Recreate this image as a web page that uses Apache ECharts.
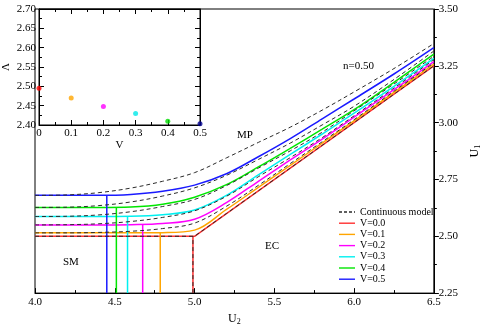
<!DOCTYPE html>
<html>
<head>
<meta charset="utf-8">
<script src="https://cdn.jsdelivr.net/npm/echarts@6/dist/echarts.min.js"></script>
<style>
  html, body { margin: 0; padding: 0; background: #fff; }
  #chart { width: 490px; height: 331px; }
</style>
</head>
<body>
<div id="chart"></div>
<script>
// sample positions along U2
const U2 = [4.0, 4.2, 4.4, 4.6, 4.8, 5.0, 5.2, 5.4, 5.6, 5.8, 6.0, 6.25, 6.5];

// solid curves, V = 0.0 ... 0.5
const solidV00 = [2.500, 2.500, 2.500, 2.500, 2.500, 2.500, 2.600, 2.700, 2.800, 2.900, 3.000, 3.125, 3.250];
const solidV01 = [2.515, 2.515, 2.515, 2.515, 2.516, 2.527, 2.618, 2.715, 2.812, 2.910, 3.008, 3.133, 3.258];
const solidV02 = [2.550, 2.550, 2.550, 2.551, 2.556, 2.575, 2.648, 2.742, 2.836, 2.928, 3.024, 3.145, 3.268];
const solidV03 = [2.587, 2.587, 2.587, 2.588, 2.595, 2.616, 2.680, 2.770, 2.860, 2.950, 3.042, 3.160, 3.283];
const solidV04 = [2.627, 2.627, 2.627, 2.629, 2.641, 2.672, 2.727, 2.805, 2.887, 2.971, 3.057, 3.177, 3.301];
const solidV05 = [2.680, 2.680, 2.680, 2.684, 2.698, 2.725, 2.775, 2.850, 2.930, 3.017, 3.104, 3.214, 3.330];

// continuous model (dashed)
const contV00 = solidV00;
const contV01 = [2.515, 2.515, 2.517, 2.522, 2.534, 2.558, 2.632, 2.724, 2.820, 2.916, 3.013, 3.138, 3.263];
const contV02 = [2.550, 2.551, 2.555, 2.565, 2.583, 2.612, 2.676, 2.762, 2.846, 2.934, 3.030, 3.152, 3.277];
const contV03 = [2.587, 2.588, 2.594, 2.608, 2.631, 2.662, 2.723, 2.800, 2.876, 2.958, 3.052, 3.170, 3.292];
const contV04 = [2.627, 2.628, 2.635, 2.651, 2.677, 2.713, 2.768, 2.838, 2.910, 2.990, 3.072, 3.190, 3.315];
const contV05 = [2.680, 2.682, 2.692, 2.712, 2.742, 2.780, 2.845, 2.913, 2.980, 3.055, 3.135, 3.238, 3.348];

// where each V curve drops to the bottom (SM boundary)
const dropU2 = [4.99, 4.785, 4.675, 4.58, 4.51, 4.45];

// inset: Lambda vs V
const insetV = [0, 0.1, 0.2, 0.3, 0.4, 0.5];
const insetLambda = [2.495, 2.470, 2.448, 2.430, 2.410, 2.403];

const vNames = ['V=0.0', 'V=0.1', 'V=0.2', 'V=0.3', 'V=0.4', 'V=0.5'];
const solids = [solidV00, solidV01, solidV02, solidV03, solidV04, solidV05];
const conts = [contV00, contV01, contV02, contV03, contV04, contV05];
const colors = ['#ff3030', '#ffa500', '#ff00ff', '#00f0f0', '#00e600', '#1a1aff'];
const insetColors = ['#ff0000', '#ffa500', '#ff00ff', '#00e8e8', '#00dd00', '#000090'];

const FONT = 'Liberation Serif';
const chart = echarts.init(document.getElementById('chart'));

const pairs = (xs, ys) => xs.map((x, i) => [x, ys[i]]);

let series = [];
solids.forEach((ys, i) => {
  series.push({
    type: 'line', name: vNames[i], data: pairs(U2, ys),
    xAxisIndex: 0, yAxisIndex: 0,
    smooth: i === 0 ? false : 0.35,
    symbol: 'none', z: 3,
    lineStyle: { color: colors[i], width: 1.5 },
    itemStyle: { color: colors[i] }
  });
  series.push({
    type: 'line', name: vNames[i],
    data: [[dropU2[i], 2.25], [dropU2[i], ys[0]]],
    xAxisIndex: 0, yAxisIndex: 0, symbol: 'none', z: 3,
    lineStyle: { color: colors[i], width: 1.5 },
    itemStyle: { color: colors[i] }
  });
});
conts.forEach((ys, i) => {
  series.push({
    type: 'line', name: 'Continuous model', data: pairs(U2, ys),
    xAxisIndex: 0, yAxisIndex: 0,
    smooth: i === 0 ? false : 0.35,
    symbol: 'none', z: 4,
    lineStyle: { color: '#2a2a2a', width: 1, type: [4, 3] },
    itemStyle: { color: '#2a2a2a' }
  });
});
series.push({
  type: 'line', name: 'Continuous model',
  data: [[dropU2[0], 2.25], [dropU2[0], contV00[0]]],
  xAxisIndex: 0, yAxisIndex: 0, symbol: 'none', z: 4,
  lineStyle: { color: '#2a2a2a', width: 1, type: [4, 3] }
});
series.push({
  type: 'scatter', data: pairs(insetV, insetLambda),
  xAxisIndex: 2, yAxisIndex: 2, symbolSize: 5, z: 5, clip: false,
  itemStyle: { color: (p) => insetColors[p.dataIndex] }
});

const tickStyle = { color: '#000', width: 1 };
const label = (fmt, margin) => ({ show: true, fontFamily: FONT, fontSize: 11, color: '#000', margin, formatter: fmt });
const subName = {
  rich: {
    u: { fontFamily: FONT, fontSize: 12, color: '#000' },
    s: { fontFamily: FONT, fontSize: 8, color: '#000', verticalAlign: 'bottom', padding: [6, 0, 0, 0] }
  }
};
const line = { show: true, onZero: false, lineStyle: tickStyle };
const ticks = (inside) => ({ show: true, inside, length: 5, lineStyle: tickStyle });
const minor = { show: true, splitNumber: 2, length: 3, lineStyle: tickStyle };

const dashIcon = 'path://M0,0h3v1.4h-3z M5,0h3v1.4h-3z M10,0h3v1.4h-3z M15,0h1v1.4h-1z';
const legendData = [{ name: 'Continuous model', icon: dashIcon }]
  .concat(vNames.map(n => ({ name: n, icon: 'rect' })));

const option = {
  animation: false,
  backgroundColor: '#fff',
  grid: [
    { left: 35, right: 45, top: 9, bottom: 33, show: true, borderColor: '#000', borderWidth: 1 },
    { left: 35, top: 9, width: 165, height: 116, show: true, borderColor: '#000', borderWidth: 1 }
  ],
  xAxis: [
    { gridIndex: 0, type: 'value', min: 4, max: 6.5, interval: 0.5,
      axisLine: line, splitLine: { show: false },
      axisTick: ticks(true), minorTick: minor,
      axisLabel: label(v => v.toFixed(1), 4),
      name: '{u|U}{s|2}', nameLocation: 'middle', nameGap: 15, nameTextStyle: subName },
    { gridIndex: 0, type: 'value', position: 'top', min: 4, max: 6.5, show: false },
    { gridIndex: 1, type: 'value', min: 0, max: 0.5, interval: 0.1,
      axisLine: line, splitLine: { show: false },
      axisTick: ticks(true), minorTick: minor,
      axisLabel: label(v => (v === 0 ? '0' : v.toFixed(1)), 3),
      name: 'V', nameLocation: 'middle', nameGap: 13,
      nameTextStyle: { fontFamily: FONT, fontSize: 11, color: '#000' } },
    { gridIndex: 1, type: 'value', position: 'top', min: 0, max: 0.5, interval: 0.1,
      axisLine: line, splitLine: { show: false },
      axisTick: ticks(true), minorTick: minor,
      axisLabel: { show: false } }
  ],
  yAxis: [
    { gridIndex: 0, type: 'value', position: 'right', min: 2.25, max: 3.5, interval: 0.25,
      axisLine: line, splitLine: { show: false },
      axisTick: ticks(false), minorTick: minor,
      axisLabel: label(v => v.toFixed(2), 5),
      name: '{u|U}{s|1}', nameLocation: 'middle', nameGap: 30, nameRotate: 90, nameTextStyle: subName },
    { gridIndex: 0, type: 'value', position: 'left', min: 2.25, max: 3.5, show: false },
    { gridIndex: 1, type: 'value', min: 2.4, max: 2.7, interval: 0.05,
      axisLine: line, splitLine: { show: false },
      axisTick: ticks(true), minorTick: minor,
      axisLabel: label(v => v.toFixed(2), 3),
      name: 'Λ', nameLocation: 'middle', nameGap: 27, nameRotate: 90,
      nameTextStyle: { fontFamily: FONT, fontSize: 11, color: '#000' } },
    { gridIndex: 1, type: 'value', position: 'right', min: 2.4, max: 2.7, interval: 0.05,
      axisLine: line, splitLine: { show: false },
      axisTick: ticks(true), minorTick: minor,
      axisLabel: { show: false } }
  ],
  legend: {
    orient: 'vertical', left: 334, top: 202,
    data: legendData,
    itemWidth: 16, itemHeight: 1.4, itemGap: 1.2,
    textStyle: { fontFamily: FONT, fontSize: 10, color: '#000', lineHeight: 10 }
  },
  graphic: [
    { type: 'text', left: 343, top: 61, style: { text: 'n=0.50', font: '11px "Liberation Serif"', fill: '#000' } },
    { type: 'text', left: 237, top: 130, style: { text: 'MP', font: '11px "Liberation Serif"', fill: '#000' } },
    { type: 'text', left: 265, top: 241, style: { text: 'EC', font: '11px "Liberation Serif"', fill: '#000' } },
    { type: 'text', left: 63, top: 257, style: { text: 'SM', font: '11px "Liberation Serif"', fill: '#000' } }
  ],
  series: series
};
chart.setOption(option);
</script>
</body>
</html>
